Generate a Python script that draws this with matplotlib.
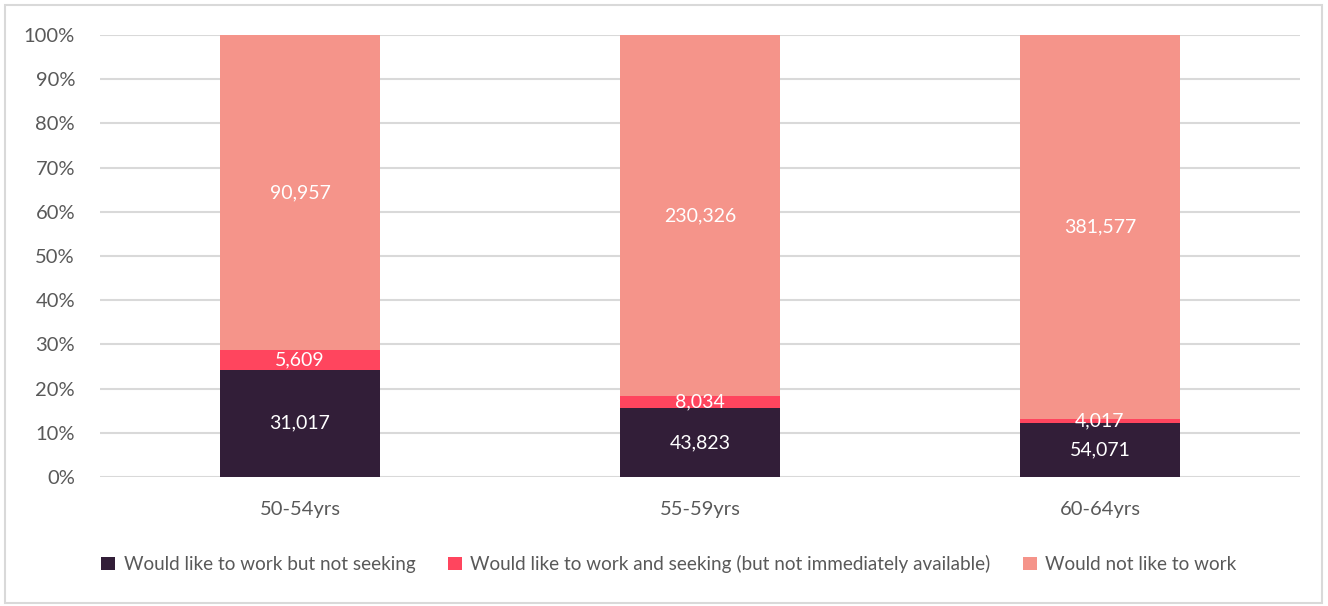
import numpy as np
import matplotlib.pyplot as plt
from matplotlib.patches import Rectangle

plt.rcParams['font.family'] = ['Lato', 'DejaVu Sans']

groups = ['50-54yrs', '55-59yrs', '60-64yrs']
not_seeking = [31017, 43823, 54071]
seeking = [5609, 8034, 4017]
not_like = [90957, 230326, 381577]

series = [
    ('Would like to work but not seeking', not_seeking, '#321e38'),
    ('Would like to work and seeking (but not immediately available)', seeking, '#ff455e'),
    ('Would not like to work', not_like, '#f5948a'),
]

totals = np.array(not_seeking) + np.array(seeking) + np.array(not_like)
grey = '#595959'

fig = plt.figure(figsize=(13.28, 6.06), dpi=100)
ax = fig.add_axes([100/1328, 1 - 477/606, 1200/1328, 442/606])

x = np.arange(len(groups))
bottom = np.zeros(len(groups))
for name, vals, col in series:
    share = np.array(vals) / totals * 100
    ax.bar(x, share, 0.4, bottom=bottom, color=col, label=name, zorder=3)
    for xi, b, s, v in zip(x, bottom, share, vals):
        ax.text(xi, b + s / 2, f'{v:,}', ha='center', va='center',
                color='white', fontsize=14, zorder=4)
    bottom += share

ax.set_xlim(-0.5, 2.5)
ax.set_ylim(0, 100)
ax.set_yticks(range(0, 101, 10))
ax.set_yticklabels([f'{t}%' for t in range(0, 101, 10)])
ax.set_xticks(x)
ax.set_xticklabels(groups)
ax.tick_params(length=0, labelsize=14.5, colors=grey)
ax.tick_params(axis='x', pad=17)
ax.tick_params(axis='y', pad=18)
ax.grid(axis='y', color='#d9d9d9', linewidth=1.5, zorder=0)
ax.set_axisbelow(True)
for s in ax.spines.values():
    s.set_visible(False)

leg = fig.legend(loc='center left', bbox_to_anchor=(101/1328, 1 - 564/606), ncol=3,
                 frameon=False, fontsize=13.6, handlelength=0.75, handleheight=0.75,
                 handletextpad=0.45, columnspacing=1.7, borderpad=0, borderaxespad=0,
                 labelcolor=grey)

# thin frame around the whole figure
fig.patches.append(Rectangle((5/1328, 3/606), 1317/1328, 598/606, transform=fig.transFigure,
                             fill=False, edgecolor='#d9d9d9', linewidth=1.5))

fig.savefig('out.png', dpi=100)
